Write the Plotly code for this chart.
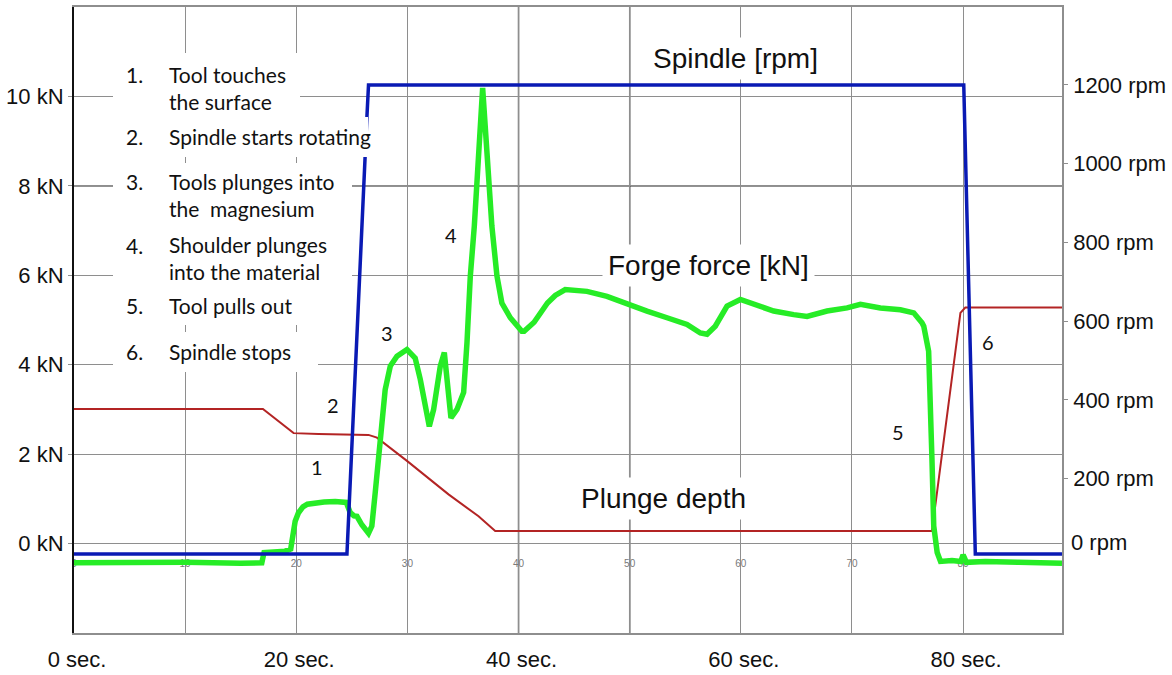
import plotly.graph_objects as go

# ---------------- data ----------------
force_t = [0, 5, 10, 15, 16.9, 17.1, 18, 19, 19.5, 19.7, 19.9, 20.2, 20.6, 21.0, 21.8, 22.5, 23.5, 24.5,
           24.86, 25.2, 25.46, 25.9, 26.5, 26.8, 27.1, 27.56, 28.0, 28.46, 29.06, 29.96, 30.7, 31.16,
           31.6, 31.97, 32.36, 32.96, 33.32, 33.62, 33.92, 34.46, 35.06, 35.36, 35.66, 36.02, 36.4,
           36.77, 37.16, 37.6, 38.06, 38.5, 39.26, 40.3, 40.5, 41.4, 42.6, 43.3, 44.2, 46.16, 47.96,
           49.76, 51.56, 53.36, 55.16, 56.36, 56.96, 57.7, 58.76, 59.96, 61.16, 62.96, 64.76, 65.96,
           67.76, 69.56, 70.76, 72.56, 74.36, 75.56, 76.3, 76.46, 76.9, 77.06, 77.2, 77.36, 77.67,
           77.97, 79.0, 79.8, 80.0, 80.3, 82, 85, 88.9]
force_kn = [-0.43, -0.42, -0.42, -0.44, -0.43, -0.2, -0.18, -0.17, -0.12, 0.2, 0.5, 0.69, 0.82, 0.88,
            0.92, 0.93, 0.94, 0.92, 0.69, 0.62, 0.61, 0.42, 0.23, 0.39, 1.13, 2.25, 3.44, 3.97, 4.19,
            4.34, 4.15, 3.67, 3.0, 2.62, 3.0, 3.97, 4.27, 3.52, 2.81, 3.0, 3.38, 4.49, 5.98, 7.1, 8.96,
            10.19, 8.74, 7.1, 5.98, 5.38, 5.05, 4.75, 4.75, 4.95, 5.38, 5.55, 5.68, 5.64, 5.53, 5.35,
            5.20, 5.05, 4.90, 4.71, 4.68, 4.86, 5.31, 5.46, 5.35, 5.2, 5.12, 5.08, 5.20, 5.27, 5.35,
            5.27, 5.23, 5.16, 4.94, 4.86, 4.3, 3.38, 1.88, 0.39, -0.2, -0.4, -0.38, -0.4, -0.25, -0.42,
            -0.4, -0.42, -0.44]

depth_t = [0, 17.0, 19.76, 22, 26.5, 27.26, 29.96, 31.76, 33.7, 36.4, 37.9, 77.2, 79.16, 79.76, 80.2, 88.9]
depth_kn = [3.01, 3.01, 2.47, 2.45, 2.43, 2.37, 1.85, 1.48, 1.10, 0.61, 0.28, 0.28, 4.04, 5.16, 5.28, 5.28]

spindle_t = [0, 24.56, 26.36, 26.5, 80.06, 81.1, 88.9]
spindle_rpm = [9, 9, 1120, 1200, 1200, 9, 9]

x_ticks = [0, 10, 20, 30, 40, 50, 60, 70, 80]
x_ticktext = ["0 sec.", "", "20 sec.", "", "40 sec.", "", "60 sec.", "", "80 sec."]
small_labels = ["0", "10", "20", "30", "40", "50", "60", "70", "80"]
kn_ticks = [0, 2, 4, 6, 8, 10]
kn_text = ["0 kN", "2 kN", "4 kN", "6 kN", "8 kN", "10 kN"]
rpm_ticks = [200, 400, 600, 800, 1000, 1200]
rpm_text = ["200 rpm", "400 rpm", "600 rpm", "800 rpm", "1000 rpm", "1200 rpm"]

legend_nums = ["1.", "2.", "3.", "4.", "5.", "6."]
legend_text = ["Tool touches<br>the surface", "Spindle starts rotating",
               "Tools plunges into<br>the\u00a0 magnesium", "Shoulder plunges<br>into the material",
               "Tool pulls out", "Spindle stops"]

# ---------------- layout geometry (pixels) ----------------
W, H = 1172, 675
L, R, T, B = 74, 1062, 7, 633
PW, PH = R - L, B - T


def px(x):
    return (x - L) / PW


def py(y):
    return (B - y) / PH


ARIAL = "Liberation Sans, Arial, sans-serif"
CAL = "Lato, Carlito, Calibri, sans-serif"
GRID = "#8e8e8e"

fig = go.Figure()

# small gray in-plot tick numbers (below the curves)
fig.add_trace(go.Scatter(x=x_ticks, y=[-0.46] * len(x_ticks), mode="text", text=small_labels,
                         textfont=dict(size=10, color="#7a7a7a", family=ARIAL),
                         hoverinfo="skip", showlegend=False))

fig.add_trace(go.Scatter(x=depth_t, y=depth_kn, mode="lines", name="Plunge depth",
                         line=dict(color="#b32424", width=2), showlegend=False))
fig.add_trace(go.Scatter(x=force_t, y=force_kn, mode="lines", name="Forge force [kN]",
                         line=dict(color="#26ec26", width=5.5), showlegend=False))
fig.add_trace(go.Scatter(x=spindle_t, y=spindle_rpm, mode="lines", name="Spindle [rpm]", yaxis="y2",
                         line=dict(color="#0a1ab4", width=3.5), showlegend=False))

shapes = []
# darker grid lines
for xv in [40, 50]:
    shapes.append(dict(type="line", xref="x", yref="paper", x0=xv, x1=xv, y0=0, y1=1,
                       line=dict(color="#262626", width=1.4), layer="below"))
shapes.append(dict(type="line", xref="paper", yref="y", x0=0, x1=1, y0=8, y1=8,
                   line=dict(color="#262626", width=1.4), layer="below"))
# white boxes behind the numbered list
for (x0, x1, y0, y1) in [(113, 300, 53, 117), (113, 368, 117, 157), (113, 352, 163, 325), (113, 318, 332, 372)]:
    shapes.append(dict(type="rect", xref="paper", yref="paper", x0=px(x0), x1=px(x1), y0=py(y1), y1=py(y0),
                       fillcolor="white", line=dict(width=0), layer="above"))

ann = []
num_y = [74, 136.7, 181.7, 245, 305, 351]
txt_y = [88, 136.7, 195.3, 257.5, 305, 351]
for n, t, yn, yt in zip(legend_nums, legend_text, num_y, txt_y):
    ann.append(dict(xref="paper", yref="paper", x=px(124), y=py(yn), text=n, showarrow=False,
                    xanchor="left", yanchor="middle", font=dict(family=CAL, size=21, color="#111")))
    ann.append(dict(xref="paper", yref="paper", x=px(167), y=py(yt), text=t, showarrow=False, align="left",
                    xanchor="left", yanchor="middle", font=dict(family=CAL, size=21, color="#111")))

for txt, x, y in [("Spindle [rpm]", 735, 58), ("Forge force [kN]", 708, 265), ("Plunge depth", 663, 498)]:
    ann.append(dict(xref="paper", yref="paper", x=px(x), y=py(y), text=txt, showarrow=False,
                    xanchor="center", yanchor="middle", bgcolor="white", borderpad=5,
                    font=dict(family=ARIAL, size=28, color="#111")))

for txt, x, y in [("1", 317, 467), ("2", 333, 405), ("3", 387, 333), ("4", 451, 235), ("5", 898, 432), ("6", 988, 342)]:
    ann.append(dict(xref="paper", yref="paper", x=px(x), y=py(y), text=txt, showarrow=False,
                    xanchor="center", yanchor="middle", font=dict(family=CAL, size=20, color="#111")))

ann.append(dict(xref="paper", yref="paper", x=px(1069), y=py(542), text="0 rpm", showarrow=False,
                xanchor="left", yanchor="middle", font=dict(family=ARIAL, size=22, color="#111")))

fig.update_layout(
    width=W, height=H,
    margin=dict(l=L, r=W - R, t=T, b=H - B, autoexpand=False),
    paper_bgcolor="white", plot_bgcolor="white",
    showlegend=False,
    shapes=shapes, annotations=ann,
    xaxis=dict(range=[0, 88.9], tickvals=x_ticks, ticktext=x_ticktext, showgrid=True, automargin=False,
               gridcolor=GRID, gridwidth=1.3, zeroline=False, showline=True, linecolor=GRID,
               linewidth=1.5, mirror=True, ticks="", ticklabelstandoff=6, ticklabelshift=3,
               tickfont=dict(family=ARIAL, size=22, color="#111")),
    yaxis=dict(range=[-2, 12], tickvals=kn_ticks, ticktext=kn_text, showgrid=True, gridcolor=GRID,
               gridwidth=1.3, zeroline=False, showline=True, linecolor="#111", linewidth=2,
               ticks="outside", ticklen=4, tickcolor=GRID, automargin=False,
               tickfont=dict(family=ARIAL, size=22, color="#111")),
    yaxis2=dict(range=[-191.7, 1397.8], overlaying="y", side="right", tickvals=rpm_ticks,
                ticktext=rpm_text, showgrid=False, zeroline=False, showline=True, linecolor=GRID,
                linewidth=1.5, ticks="outside", ticklen=4, tickcolor=GRID, ticklabelstandoff=1,
                automargin=False, tickfont=dict(family=ARIAL, size=22, color="#111")),
)

fig.write_html("out.html")
